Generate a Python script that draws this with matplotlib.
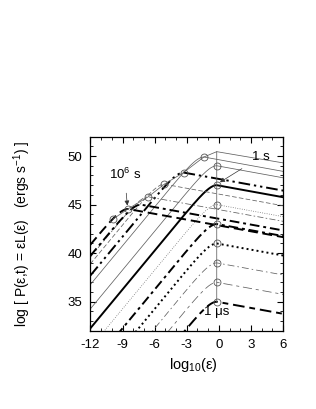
import numpy as np
import matplotlib
matplotlib.use('Agg')
import matplotlib.pyplot as plt

plt.rcParams['font.family'] = ['Liberation Sans', 'DejaVu Sans']
plt.rcParams['mathtext.fontset'] = 'custom'
plt.rcParams['mathtext.rm'] = 'Liberation Sans'
plt.rcParams['mathtext.it'] = 'Liberation Sans:italic'
plt.rcParams['axes.unicode_minus'] = False

# peak of each spectrum (log eps, log P)
# coasting phase: 1 us ... 10 s, peak energy fixed
coast_x = [-0.2, -0.2, -0.2, -0.2, -0.2, -0.2, -0.2, -0.2]
coast_y = [35, 37, 39, 41, 43, 45, 47, 49]
# decelerating phase: peak moves to lower energy
decel_x = [-1.4, -3.3, -5.1, -6.6, -7.3, -8.5]
decel_y = [49.9, 48.3, 47.1, 45.8, 45.0, 44.55]
# track of the peak (thin solid line with circles)
track_x = [-0.2, -0.2, -1.4, -3.3, -5.1, -6.6, -8.5, -9.9]
track_y = [35, 50.45, 49.9, 48.3, 47.1, 45.8, 44.55, 43.5]
circ_x = coast_x + [-1.4, -3.3, -5.1, -6.6, -8.5, -9.9]
circ_y = coast_y + [49.9, 48.3, 47.1, 45.8, 44.55, 43.5]
# spectrum at the deceleration time (only falling branch visible)
top_x = [-0.2, 6.5]
top_y = [50.45, 49.2]

slope_up = 4.0 / 3.0
slope_down = -0.2
rounding = 1.0

# line styles: (linewidth, dashes) ; None = solid
thin = 0.55
thick = 1.4
coast_style = [(thick, (6, 2.5, 3, 2.5)),      # 1 us
               (thin, (12, 5, 4, 5)),          # 10 us
               (thin, (9, 4, 2, 4)),           # 100 us
               (thick, (1.0, 1.6)),            # 1 ms
               (thick, (5, 2, 1.5, 2)),        # 10 ms
               (thin, (1, 2)),                 # 100 ms
               (thick, None),                  # 1 s
               (thin, None)]                   # 10 s
decel_style = [(thin, None),
               (thick, (6, 2, 1.2, 2, 1.2, 2)),
               (thin, (6, 3)),
               (thin, (8, 3, 2, 3)),
               (thick, (5, 2, 1.5, 2)),
               (thick, (5, 2.5))]


def spectrum(x, xp, yp):
    u = x - xp
    left = slope_up * u + rounding * (1 - np.exp(slope_up * u / rounding))
    right = slope_down * u
    return yp + np.where(u < 0, left, right)


fig = plt.figure(figsize=(3.16, 4.09), dpi=100)
ax = fig.add_axes([0.286, 0.191, 0.610, 0.475])

x = np.linspace(-12.5, 6.5, 1200)
for xp, yp, (lw, ds) in zip(coast_x + decel_x, coast_y + decel_y, coast_style + decel_style):
    col = 'black' if lw > 1 else '#606060'
    line, = ax.plot(x, spectrum(x, xp, yp), color=col, lw=lw)
    if ds is not None:
        line.set_dashes(ds)

ax.plot(top_x, top_y, color='#606060', lw=thin)
ax.plot(track_x, track_y, color='#606060', lw=thin)
ax.plot(circ_x, circ_y, 'o', ms=5, mfc='none', mec='#555555', mew=0.6)

ax.annotate('1 s', xy=(0.1, 47.3), xytext=(3.9, 49.9), fontsize=9.5,
            ha='center', va='center',
            arrowprops=dict(arrowstyle='-|>', color='#333333', lw=0.5,
                            mutation_scale=7, shrinkA=6, shrinkB=0))
ax.annotate('10$^6$ s', xy=(-8.55, 44.9), xytext=(-8.8, 48.1), fontsize=9.5,
            ha='center', va='center',
            arrowprops=dict(arrowstyle='-|>', color='#333333', lw=0.5,
                            mutation_scale=7, shrinkA=6, shrinkB=0))
ax.text(-0.2, 33.95, '1 μs', fontsize=9.5, ha='center', va='center')

ax.set_xlim(-12, 6)
ax.set_ylim(32, 52)
ax.set_xticks(range(-12, 7, 3))
ax.set_xticks(range(-12, 7), minor=True)
ax.set_yticks(range(35, 51, 5))
ax.set_yticks(range(32, 53), minor=True)
ax.tick_params(which='both', direction='in', top=True, right=True, labelsize=9.5)
ax.tick_params(which='major', length=4, width=0.8, pad=6)
ax.tick_params(which='minor', length=2, width=0.6)
for s in ax.spines.values():
    s.set_linewidth(0.9)

ax.set_xlabel(r'log$_{10}$(ε)', fontsize=10.5)
ax.set_ylabel(r'log [ P(ε,t) = εL(ε)   (ergs s$^{-1}$) ]', fontsize=10)
ax.xaxis.set_label_coords(0.535, -0.13)
ax.yaxis.set_label_coords(-0.30, 0.5)

fig.savefig('out.png', dpi=100)
